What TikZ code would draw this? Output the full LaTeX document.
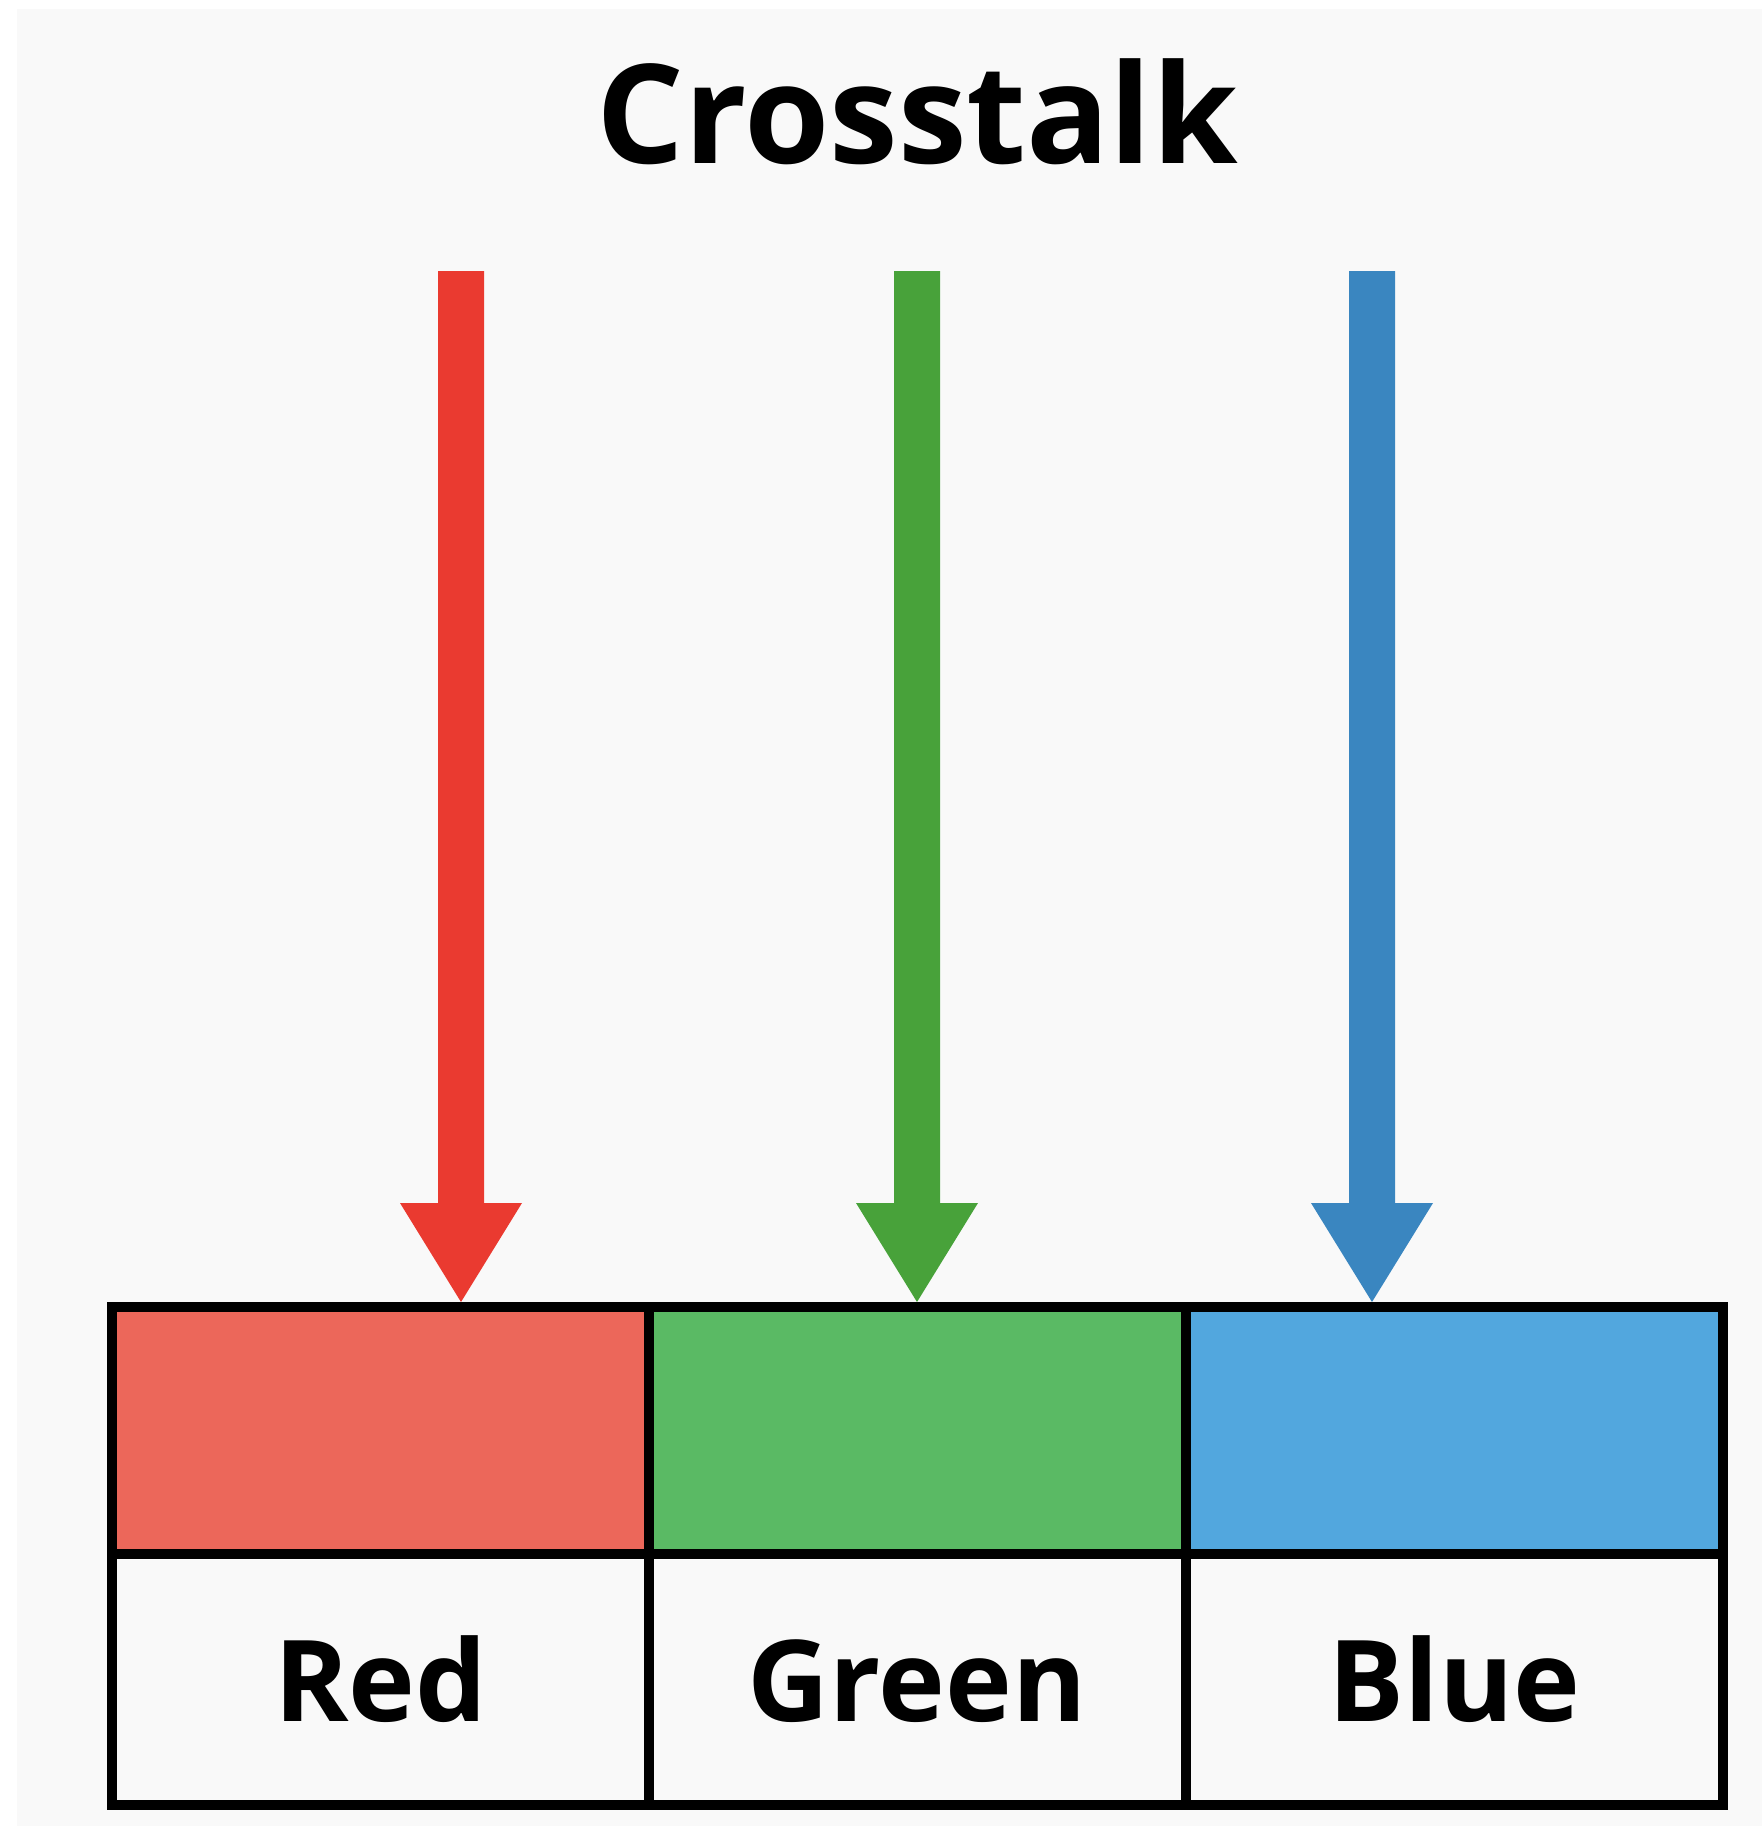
\documentclass[tikz,border=0pt]{standalone}
\usepackage{fontspec}
\setmainfont{Open Sans}
\usetikzlibrary{calc}
\definecolor{bgc}{HTML}{F9F9F9}
\definecolor{redarrow}{HTML}{EA3A30}
\definecolor{greenarrow}{HTML}{48A23A}
\definecolor{bluearrow}{HTML}{3A86C0}
\definecolor{redcell}{HTML}{EC675A}
\definecolor{greencell}{HTML}{5ABA64}
\definecolor{bluecell}{HTML}{52A7DE}
\newcommand\fatarrow[3]{%
  \fill[#1] ($(#2)+(-23,0)$) -- ($(#2)+(23,0)$) -- ($(#3)+(23,-99)$) -- ($(#3)+(61,-99)$) -- (#3)
    -- ($(#3)+(-61,-99)$) -- ($(#3)+(-23,-99)$) -- cycle;}
\begin{document}
\begin{tikzpicture}[x=1pt,y=-1pt,
  cell/.style={draw=black, line width=10pt, rectangle, inner sep=0pt, outer sep=0pt, minimum width=537pt},
  colcell/.style={cell, minimum height=247pt},
  txtcell/.style={cell, minimum height=251pt, fill=bgc},
  lbl/.style={font=\fontsize{113}{120}\selectfont\bfseries, inner sep=0pt, anchor=base},
  ttl/.style={font=\fontsize{138}{150}\selectfont\bfseries, inner sep=0pt, anchor=base}]
\useasboundingbox (0,0) rectangle (1762,1826);
\fill[white] (0,0) rectangle (1762,1826);
\fill[bgc] (17,9) rectangle (1762,1826);

\node[ttl] (title) at (917,163) {Crosstalk};

\node[colcell, fill=redcell] (rc) at (380.5,1430.5) {};
\node[colcell, fill=greencell] (gc) at (917,1430.5) {};
\node[colcell, fill=bluecell] (bc) at (1454.5,1430.5) {};
\node[txtcell] (rl) at (380.5,1679.5) {};
\node[txtcell] (gl) at (917,1679.5) {};
\node[txtcell] (bl) at (1454.5,1679.5) {};

\node[lbl] (rtext) at ($(rl.south)+(0,-84)$) {Red};
\node[lbl] (gtext) at ($(gl.south)+(0,-84)$) {Green};
\node[lbl] (btext) at ($(bl.south)+(0,-84)$) {Blue};

\coordinate (ra) at (461,271);
\coordinate (ga) at (917,271);
\coordinate (ba) at (1372,271);
\coordinate (rtip) at ($(ra |- rc.north)+(0,-5)$);
\coordinate (gtip) at ($(ga |- gc.north)+(0,-5)$);
\coordinate (btip) at ($(ba |- bc.north)+(0,-5)$);

\fatarrow{redarrow}{ra}{rtip}
\fatarrow{greenarrow}{ga}{gtip}
\fatarrow{bluearrow}{ba}{btip}
\end{tikzpicture}
\end{document}
